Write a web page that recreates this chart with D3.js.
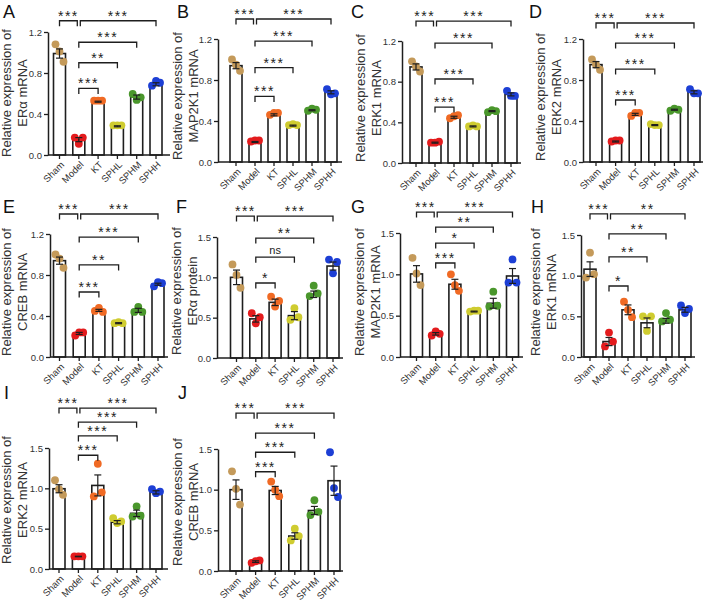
<!DOCTYPE html>
<html>
<head>
<meta charset="utf-8">
<script src="https://cdn.jsdelivr.net/npm/d3@7"></script>
<style>
  body { margin: 0; background: #fff; }
  svg { font-family: Arial, "Liberation Sans", sans-serif; }
</style>
</head>
<body>
<svg id="fig" width="708" height="603"></svg>
<script>
// groups and colours
const groups = ["Sham", "Model", "KT", "SPHL", "SPHM", "SPHH"];
const groupColors = ["#c49a5a", "#e31b1d", "#f06a24", "#cfcc30", "#4a972c", "#1d3fd5"];
const ticks12 = [0, 0.4, 0.8, 1.2];
const ticks15 = [0, 0.5, 1.0, 1.5];

// significance order: Sham-Model, Model-SPHH, Model-SPHM, Model-SPHL, Model-KT
// bracket levels (data units): top row, SPHM, SPHL, KT

// A  ERα mRNA
const meanA = [0.99, 0.15, 0.52, 0.28, 0.565, 0.69];
const semA = [0.045, 0.02, 0.005, 0.005, 0.02, 0.015];
const ptsA = [[1.08, 1.01, 0.91], [0.17, 0.11, 0.17], [0.53, 0.53, 0.53], [0.29, 0.29, 0.29], [0.595, 0.537, 0.563], [0.676, 0.722, 0.705]];
const sigA = ["***", "***", "***", "**", "***"];
const levA = [1.31, 1.10, 0.90, 0.65];

// B  MAP2K1 mRNA
const meanB = [0.94, 0.195, 0.46, 0.355, 0.505, 0.68];
const semB = [0.03, 0.005, 0.01, 0.005, 0.005, 0.015];
const ptsB = [[1.0, 0.95, 0.89], [0.20, 0.21, 0.21], [0.46, 0.48, 0.48], [0.36, 0.37, 0.36], [0.50, 0.52, 0.51], [0.71, 0.66, 0.67]];
const sigB = ["***", "***", "***", "***", "***"];
const levB = [1.395, 1.18, 0.92, 0.64];

// C  ERK1 mRNA
const meanC = [0.945, 0.2, 0.45, 0.36, 0.51, 0.675];
const semC = [0.03, 0.005, 0.01, 0.005, 0.005, 0.015];
const ptsC = [[1.0, 0.95, 0.90], [0.20, 0.20, 0.21], [0.44, 0.46, 0.47], [0.36, 0.37, 0.36], [0.50, 0.52, 0.51], [0.71, 0.66, 0.66]];
const sigC = ["***", "***", "***", "***", "***"];
const levC = [1.396, 1.18, 0.826, 0.55];

// D  ERK2 mRNA
const meanD = [0.95, 0.2, 0.465, 0.36, 0.51, 0.68];
const semD = [0.03, 0.005, 0.01, 0.005, 0.005, 0.015];
const ptsD = [[1.0, 0.95, 0.90], [0.20, 0.21, 0.21], [0.45, 0.48, 0.48], [0.37, 0.36, 0.36], [0.50, 0.52, 0.51], [0.71, 0.67, 0.67]];
const sigD = ["***", "***", "***", "***", "***"];
const levD = [1.356, 1.16, 0.907, 0.605];

// E  CREB mRNA
const meanE = [0.94, 0.23, 0.455, 0.33, 0.455, 0.71];
const semE = [0.035, 0.01, 0.01, 0.005, 0.02, 0.01];
const ptsE = [[1.0, 0.96, 0.87], [0.21, 0.24, 0.24], [0.45, 0.48, 0.44], [0.33, 0.34, 0.33], [0.44, 0.49, 0.44], [0.69, 0.73, 0.72]];
const sigE = ["***", "***", "***", "**", "***"];
const levE = [1.395, 1.17, 0.898, 0.634];

// F  ERα protein
const meanF = [1.0, 0.485, 0.69, 0.525, 0.79, 1.14];
const semF = [0.09, 0.04, 0.04, 0.05, 0.04, 0.05];
const ptsF = [[1.16, 1.03, 0.87], [0.555, 0.43, 0.505], [0.76, 0.637, 0.707], [0.473, 0.617, 0.505], [0.768, 0.896, 0.80], [1.22, 1.05, 1.19]];
const sigF = ["***", "***", "**", "ns", "*"];
const levF = [1.76, 1.487, 1.25, 0.93];

// G  MAP2K1 mRNA
const meanG = [1.005, 0.28, 0.88, 0.55, 0.65, 0.98];
const semG = [0.10, 0.015, 0.06, 0.005, 0.06, 0.09];
const ptsG = [[1.20, 1.01, 0.87], [0.26, 0.31, 0.28], [1.0, 0.87, 0.80], [0.55, 0.56, 0.56], [0.61, 0.79, 0.62], [0.90, 1.18, 0.90]];
const sigG = ["***", "***", "**", "*", "***"];
const levG = [1.753, 1.57, 1.378, 1.137];

// H  ERK1 mRNA
const meanH = [1.08, 0.19, 0.58, 0.42, 0.445, 0.58];
const semH = [0.09, 0.05, 0.06, 0.06, 0.03, 0.03];
const ptsH = [[0.977, 1.283, 1.018], [0.13, 0.30, 0.19], [0.68, 0.58, 0.49], [0.50, 0.32, 0.50], [0.437, 0.54, 0.458], [0.633, 0.54, 0.59]];
const sigH = ["***", "**", "**", "**", "*"];
const levH = [1.759, 1.513, 1.23, 0.873];

// I  ERK2 mRNA
const meanI = [0.995, 0.155, 1.036, 0.58, 0.69, 0.95];
const semI = [0.05, 0.003, 0.13, 0.02, 0.04, 0.02];
const ptsI = [[1.10, 0.99, 0.92], [0.157, 0.157, 0.157], [0.90, 1.305, 0.95], [0.63, 0.57, 0.59], [0.65, 0.775, 0.66], [0.99, 0.94, 0.96]];
const sigI = ["***", "***", "***", "***", "***"];
const levI = [1.995, 1.82, 1.65, 1.41];

// J  CREB mRNA
const meanJ = [1.0, 0.115, 0.99, 0.43, 0.744, 1.11];
const semJ = [0.12, 0.01, 0.05, 0.04, 0.05, 0.18];
const ptsJ = [[1.226, 1.01, 0.817], [0.10, 0.12, 0.13], [1.10, 1.0, 0.92], [0.376, 0.52, 0.43], [0.687, 0.87, 0.727], [1.46, 1.02, 0.91]];
const sigJ = ["***", "***", "***", "***", "***"];
const levJ = [1.94, 1.695, 1.46, 1.22];

const panels = [
  { id: "A", title: ["Relative expression of", "ERα mRNA"], ticks: ticks12, mean: meanA, sem: semA, pts: ptsA, sig: sigA, lev: levA },
  { id: "B", title: ["Relative expression of", "MAP2K1 mRNA"], ticks: ticks12, mean: meanB, sem: semB, pts: ptsB, sig: sigB, lev: levB },
  { id: "C", title: ["Relative expression of", "ERK1 mRNA"], ticks: ticks12, mean: meanC, sem: semC, pts: ptsC, sig: sigC, lev: levC },
  { id: "D", title: ["Relative expression of", "ERK2 mRNA"], ticks: ticks12, mean: meanD, sem: semD, pts: ptsD, sig: sigD, lev: levD },
  { id: "E", title: ["Relative expression of", "CREB mRNA"], ticks: ticks12, mean: meanE, sem: semE, pts: ptsE, sig: sigE, lev: levE },
  { id: "F", title: ["Relative expression of", "ERα protein"], ticks: ticks15, mean: meanF, sem: semF, pts: ptsF, sig: sigF, lev: levF },
  { id: "G", title: ["Relative expression of", "MAP2K1 mRNA"], ticks: ticks15, mean: meanG, sem: semG, pts: ptsG, sig: sigG, lev: levG },
  { id: "H", title: ["Relative expression of", "ERK1 mRNA"], ticks: ticks15, mean: meanH, sem: semH, pts: ptsH, sig: sigH, lev: levH },
  { id: "I", title: ["Relative expression of", "ERK2 mRNA"], ticks: ticks15, mean: meanI, sem: semI, pts: ptsI, sig: sigI, lev: levI },
  { id: "J", title: ["Relative expression of", "CREB mRNA"], ticks: ticks15, mean: meanJ, sem: semJ, pts: ptsJ, sig: sigJ, lev: levJ }
];

// panel placement on the page (pixels)
const layout = {
  A: { axisX: 48, axisEnd: 170, c0: 59.5, c5: 156, yTop: 32, y0: 155, labX: 11, labY: 93, lx: 3, ly: 18 },
  B: { axisX: 218, axisEnd: 342, c0: 236, c5: 331, yTop: 39, y0: 162, labX: 182, labY: 96, lx: 177, ly: 18 },
  C: { axisX: 402, axisEnd: 521, c0: 416, c5: 511, yTop: 41, y0: 163, labX: 365, labY: 98, lx: 351, ly: 18 },
  D: { axisX: 583, axisEnd: 703, c0: 596, c5: 694, yTop: 39, y0: 162, labX: 545, labY: 97, lx: 529, ly: 18 },
  E: { axisX: 50, axisEnd: 168, c0: 59.5, c5: 158, yTop: 234, y0: 357, labX: 11, labY: 292, lx: 3, ly: 213 },
  F: { axisX: 217, axisEnd: 343, c0: 236.5, c5: 333, yTop: 237, y0: 358, labX: 181, labY: 291, lx: 176, ly: 213 },
  G: { axisX: 400, axisEnd: 523, c0: 416.5, c5: 512.5, yTop: 233, y0: 357, labX: 364, labY: 292, lx: 351, ly: 213 },
  H: { axisX: 581, axisEnd: 695, c0: 590, c5: 685, yTop: 235, y0: 357, labX: 540, labY: 292, lx: 531, ly: 213 },
  I: { axisX: 49, axisEnd: 168, c0: 59, c5: 156, yTop: 448, y0: 569, labX: 11, labY: 500, lx: 4, ly: 399 },
  J: { axisX: 218, axisEnd: 343, c0: 236, c5: 334, yTop: 449, y0: 571, labX: 182, labY: 502, lx: 178, ly: 399 }
};

const svg = d3.select("#fig");
const ink = "#1e1e1e";

panels.forEach(p => drawPanel(p, layout[p.id]));

function drawPanel(p, L) {
  let g = svg.append("g").attr("class", "panel-" + p.id);

  let y = d3.scaleLinear().domain([0, d3.max(p.ticks)]).range([L.y0, L.yTop]);
  let step = (L.c5 - L.c0) / (groups.length - 1);
  let x = d3.scaleBand().domain(groups).range([L.c0 - step / 2, L.c5 + step / 2]).padding(0);
  let cx = d => x(d) + x.bandwidth() / 2;
  let barW = 12;

  let rows = groups.map((name, i) => ({ name: name, i: i, mean: p.mean[i], sem: p.sem[i], pts: p.pts[i] }));

  // bars
  g.selectAll(".bar").data(rows).enter().append("rect")
    .attr("class", "bar")
    .attr("x", d => cx(d.name) - barW / 2)
    .attr("width", barW)
    .attr("y", d => y(d.mean))
    .attr("height", d => y(0) - y(d.mean))
    .attr("fill", "#fff")
    .attr("stroke", ink)
    .attr("stroke-width", 1.6);

  // dots
  rows.forEach(r => {
    g.selectAll(".dot-" + r.i).data(r.pts).enter().append("circle")
      .attr("cx", (v, k) => cx(r.name) + (k - (r.pts.length - 1) / 2) * 4)
      .attr("cy", v => y(v))
      .attr("r", 3.9)
      .attr("fill", groupColors[r.i]);
  });

  // error bars
  let eb = g.selectAll(".err").data(rows).enter().append("g").attr("class", "err")
    .attr("stroke", ink).attr("stroke-width", 1.2);
  eb.append("line")
    .attr("x1", d => cx(d.name)).attr("x2", d => cx(d.name))
    .attr("y1", d => y(d.mean - d.sem)).attr("y2", d => y(d.mean + d.sem));
  eb.append("line")
    .attr("x1", d => cx(d.name) - 3.5).attr("x2", d => cx(d.name) + 3.5)
    .attr("y1", d => y(d.mean + d.sem)).attr("y2", d => y(d.mean + d.sem));
  eb.append("line")
    .attr("x1", d => cx(d.name) - 3.5).attr("x2", d => cx(d.name) + 3.5)
    .attr("y1", d => y(d.mean - d.sem)).attr("y2", d => y(d.mean - d.sem));

  // y axis
  let ya = g.append("g")
    .attr("transform", "translate(" + L.axisX + ",0)")
    .call(d3.axisLeft(y).tickValues(p.ticks).tickFormat(d3.format(".1f")).tickSize(4).tickSizeOuter(0));
  ya.select(".domain").attr("stroke", ink).attr("stroke-width", 1.5);
  ya.selectAll(".tick line").attr("stroke", ink).attr("stroke-width", 1.3);
  ya.selectAll(".tick text").attr("font-size", 9.5).attr("fill", "#333").attr("x", -6);

  // x axis
  g.append("line")
    .attr("x1", L.axisX).attr("x2", L.axisEnd)
    .attr("y1", L.y0).attr("y2", L.y0)
    .attr("stroke", ink).attr("stroke-width", 1.5);
  let xa = g.append("g")
    .attr("transform", "translate(0," + L.y0 + ")")
    .call(d3.axisBottom(x).tickSize(4).tickSizeOuter(0));
  xa.select(".domain").remove();
  xa.selectAll(".tick line").attr("stroke", ink).attr("stroke-width", 1.3);
  xa.selectAll(".tick text")
    .attr("font-size", 9.5).attr("fill", "#333")
    .attr("x", 0).attr("y", 0).attr("dy", "0.35em")
    .attr("text-anchor", "end")
    .attr("transform", "translate(3,8) rotate(-45)");

  // y title
  let t = g.append("text")
    .attr("transform", "translate(" + L.labX + "," + L.labY + ") rotate(-90)")
    .attr("text-anchor", "middle")
    .attr("font-size", 13)
    .attr("fill", "#333");
  t.append("tspan").attr("x", 0).attr("y", 0).text(p.title[0]);
  t.append("tspan").attr("x", 0).attr("y", 16).text(p.title[1]);

  // panel letter
  g.append("text")
    .attr("x", L.lx).attr("y", L.ly)
    .attr("font-size", 18)
    .attr("fill", "#111")
    .text(p.id);

  // significance brackets
  let m = cx("Model");
  let brackets = [
    { x1: cx("Sham"), x2: m - 1.5, lev: p.lev[0], s: p.sig[0] },
    { x1: m + 1.5, x2: cx("SPHH"), lev: p.lev[0], s: p.sig[1] },
    { x1: m, x2: cx("SPHM"), lev: p.lev[1], s: p.sig[2] },
    { x1: m, x2: cx("SPHL"), lev: p.lev[2], s: p.sig[3] },
    { x1: m, x2: cx("KT"), lev: p.lev[3], s: p.sig[4] }
  ];
  let br = g.selectAll(".brk").data(brackets).enter().append("g").attr("class", "brk");
  br.append("path")
    .attr("d", b => {
      let yy = y(b.lev);
      return "M" + b.x1 + "," + (yy + 5.5) + "V" + yy + "H" + b.x2 + "V" + (yy + 5.5);
    })
    .attr("fill", "none").attr("stroke", ink).attr("stroke-width", 1.3);
  br.append("text")
    .attr("x", b => (b.x1 + b.x2) / 2)
    .attr("y", b => y(b.lev) - (b.s === "ns" ? 3 : 0))
    .attr("text-anchor", "middle")
    .attr("font-size", b => b.s === "ns" ? 11 : 14)
    .attr("letter-spacing", b => b.s === "ns" ? 0 : 1.5)
    .attr("fill", "#222")
    .text(b => b.s);
}
</script>
</body>
</html>
